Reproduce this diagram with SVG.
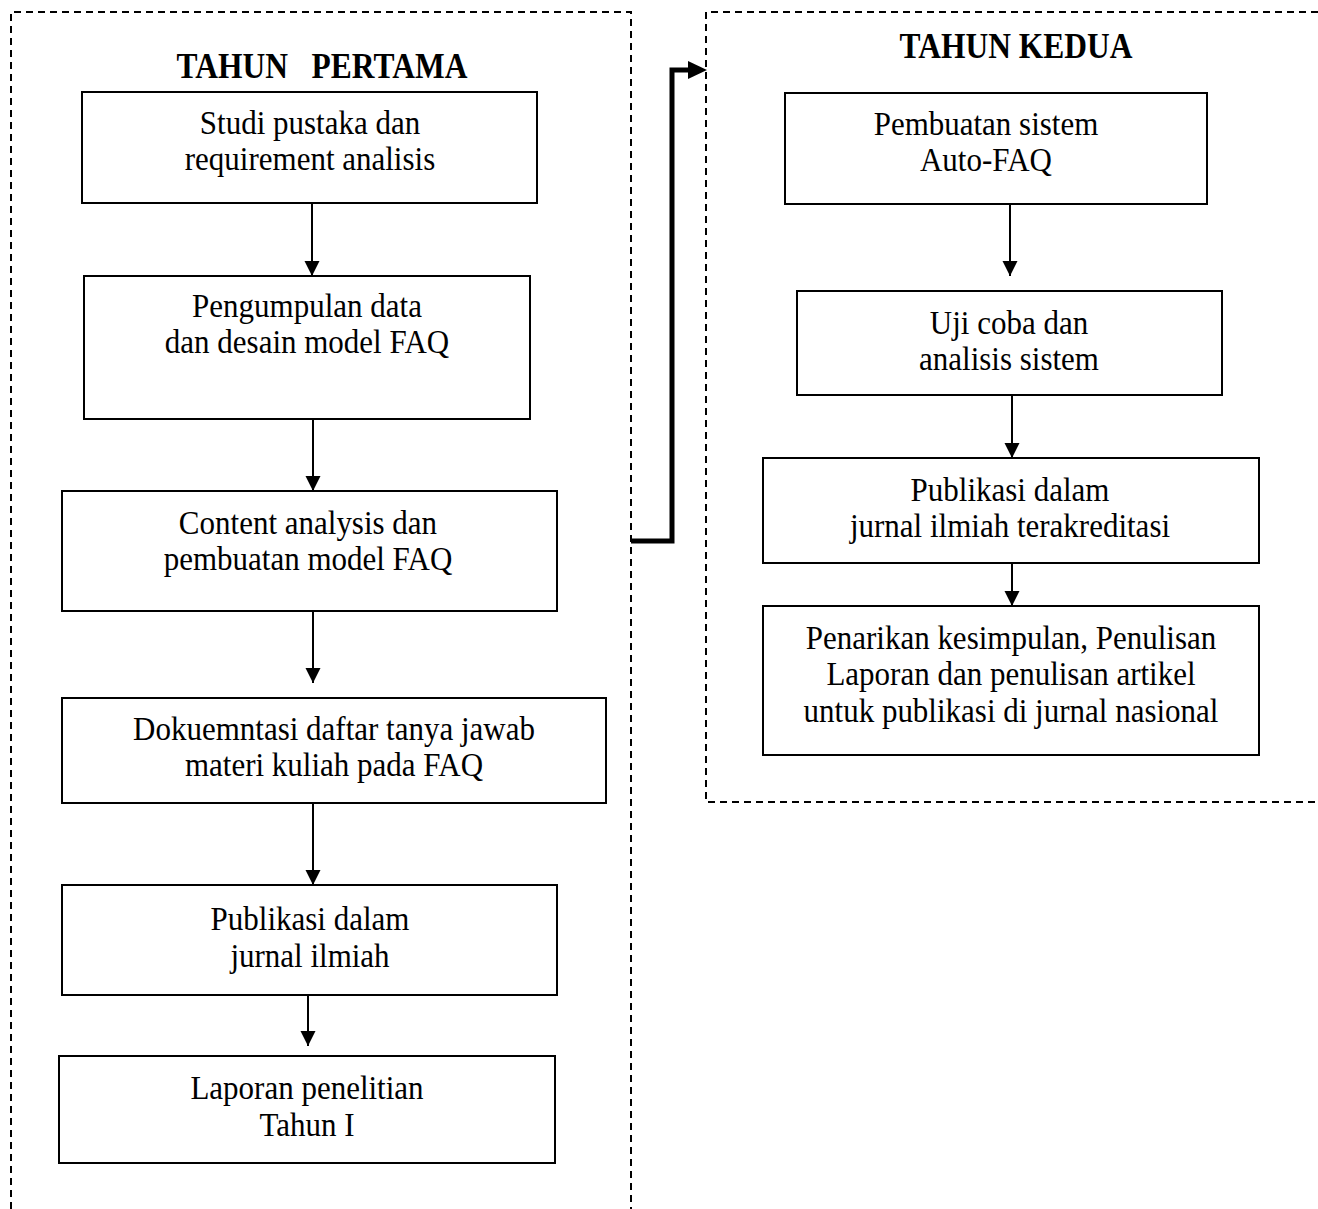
<svg xmlns="http://www.w3.org/2000/svg" width="1318" height="1209" viewBox="0 0 1318 1209">
  <style>
    .frame { fill: none; stroke: #000; stroke-width: 2; stroke-dasharray: 7 5; }
    .box { fill: #fff; stroke: #000; stroke-width: 2; }
    .lbl, .ttl { font-family: "Liberation Serif", "Times New Roman", serif; fill: #000; text-anchor: middle;
                 transform-box: fill-box; transform-origin: center; }
    .lbl { font-size: 31px; transform: scaleY(1.1); }
    .ttl { font-size: 31.5px; font-weight: bold; transform: scaleY(1.15); }
    .flow { fill: none; stroke: #000; stroke-width: 2; }
    .link { fill: none; stroke: #000; stroke-width: 5; stroke-linejoin: miter; }
  </style>
  <defs>
    <marker id="head" markerUnits="userSpaceOnUse" markerWidth="16" markerHeight="16" refX="15" refY="7.5" orient="auto">
      <path d="M0,0 L15,7.5 L0,15 Z" fill="#000"/>
    </marker>
  </defs>

  <rect width="1318" height="1209" fill="#fff"/>

  <!-- year panels -->
  <g id="panel-year1">
    <path class="frame" d="M11,1209 V12 H631 V1209"/>
    <text class="ttl" x="322" y="76" xml:space="preserve">TAHUN   PERTAMA</text>
  </g>
  <g id="panel-year2">
    <path class="frame" d="M1318,12 H706 V802 H1318"/>
    <text class="ttl" x="1016" y="56">TAHUN KEDUA</text>
  </g>

  <!-- first-year steps -->
  <g id="studi-pustaka">
    <rect class="box" x="82" y="92" width="455" height="111"/>
    <text class="lbl" x="310" y="133">Studi pustaka dan</text>
    <text class="lbl" x="310" y="169">requirement analisis</text>
  </g>
  <g id="pengumpulan-data">
    <rect class="box" x="84" y="276" width="446" height="143"/>
    <text class="lbl" x="307" y="316">Pengumpulan data</text>
    <text class="lbl" x="307" y="352">dan desain model FAQ</text>
  </g>
  <g id="content-analysis">
    <rect class="box" x="62" y="491" width="495" height="120"/>
    <text class="lbl" x="308" y="533">Content analysis dan</text>
    <text class="lbl" x="308" y="569">pembuatan model FAQ</text>
  </g>
  <g id="dokumentasi">
    <rect class="box" x="62" y="698" width="544" height="105"/>
    <text class="lbl" x="334" y="739">Dokuemntasi daftar tanya jawab</text>
    <text class="lbl" x="334" y="775">materi kuliah pada FAQ</text>
  </g>
  <g id="publikasi-1">
    <rect class="box" x="62" y="885" width="495" height="110"/>
    <text class="lbl" x="310" y="929">Publikasi dalam</text>
    <text class="lbl" x="310" y="966">jurnal ilmiah</text>
  </g>
  <g id="laporan-1">
    <rect class="box" x="59" y="1056" width="496" height="107"/>
    <text class="lbl" x="307" y="1098">Laporan penelitian</text>
    <text class="lbl" x="307" y="1135">Tahun I</text>
  </g>

  <!-- second-year steps -->
  <g id="pembuatan-sistem">
    <rect class="box" x="785" y="93" width="422" height="111"/>
    <text class="lbl" x="986" y="134">Pembuatan sistem</text>
    <text class="lbl" x="986" y="170">Auto-FAQ</text>
  </g>
  <g id="uji-coba">
    <rect class="box" x="797" y="291" width="425" height="104"/>
    <text class="lbl" x="1009" y="333">Uji coba dan</text>
    <text class="lbl" x="1009" y="369">analisis sistem</text>
  </g>
  <g id="publikasi-2">
    <rect class="box" x="763" y="458" width="496" height="105"/>
    <text class="lbl" x="1010" y="500">Publikasi dalam</text>
    <text class="lbl" x="1010" y="536">jurnal ilmiah terakreditasi</text>
  </g>
  <g id="kesimpulan">
    <rect class="box" x="763" y="606" width="496" height="149"/>
    <text class="lbl" x="1011" y="648">Penarikan kesimpulan, Penulisan</text>
    <text class="lbl" x="1011" y="684">Laporan dan penulisan artikel</text>
    <text class="lbl" x="1011" y="721">untuk publikasi di jurnal nasional</text>
  </g>

  <!-- connectors -->
  <g id="connectors">
    <path class="flow" d="M312,203 V276" marker-end="url(#head)"/>
    <path class="flow" d="M313,419 V491" marker-end="url(#head)"/>
    <path class="flow" d="M313,611 V683" marker-end="url(#head)"/>
    <path class="flow" d="M313,803 V885" marker-end="url(#head)"/>
    <path class="flow" d="M308,995 V1046" marker-end="url(#head)"/>

    <path class="flow" d="M1010,204 V276" marker-end="url(#head)"/>
    <path class="flow" d="M1012,395 V458" marker-end="url(#head)"/>
    <path class="flow" d="M1012,563 V606" marker-end="url(#head)"/>

    <!-- year one to year two -->
    <path class="link" d="M631,541 H672 V70 H690"/>
    <path d="M688,61 L707,70 L688,79 Z" fill="#000"/>
  </g>
</svg>
